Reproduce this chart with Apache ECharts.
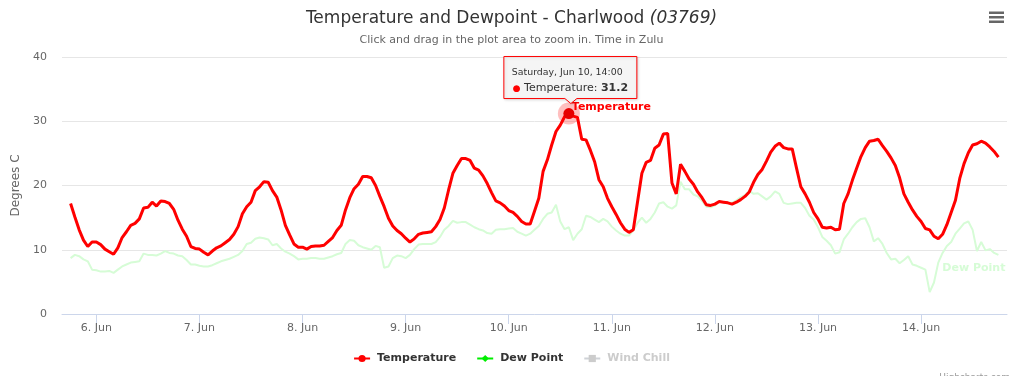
<!DOCTYPE html>
<html>
<head>
<meta charset="utf-8">
<script src="https://cdn.jsdelivr.net/npm/echarts@6/dist/echarts.min.js"></script>
<style>
html, body { margin: 0; padding: 0; background: #fff; }
#chart { width: 1023px; height: 376px; }
</style>
</head>
<body>
<div id="chart"></div>
<script>
// hourly readings, first one at 5 Jun 18:00 Zulu
var firstReading = Date.UTC(2017, 5, 5, 18);
var stepMs = 3600000;

var temperature = [
  17.2, 15.1, 13.1, 11.5, 10.5, 11.2,
  11.2, 10.8, 10.1, 9.7, 9.3, 10.3, 11.9, 12.8, 13.8, 14.1, 14.8, 16.5,
  16.6, 17.4, 16.8, 17.6, 17.5, 17.2, 16.3, 14.6, 13.2, 12.1, 10.5, 10.2,
  10.1, 9.6, 9.2, 9.8, 10.3, 10.6, 11.1, 11.6, 12.4, 13.6, 15.6, 16.7,
  17.4, 19.2, 19.8, 20.6, 20.5, 19.2, 18.2, 16.2, 13.8, 12.3, 10.9, 10.4,
  10.4, 10.1, 10.5, 10.6, 10.6, 10.7, 11.3, 11.9, 13.0, 13.8, 16.2, 18.1,
  19.5, 20.2, 21.4, 21.4, 21.2, 20.0, 18.3, 16.7, 14.9, 13.7, 13.0, 12.5,
  11.8, 11.2, 11.7, 12.4, 12.6, 12.7, 12.8, 13.6, 14.7, 16.5, 19.3, 21.9,
  23.1, 24.2, 24.2, 23.9, 22.7, 22.4, 21.5, 20.3, 18.9, 17.6, 17.3, 16.8,
  16.1, 15.8, 15.2, 14.4, 14.0, 14.0, 16.0, 18.0, 22.2, 24.0, 26.3, 28.4,
  29.4, 30.7, 31.2, 30.8, 30.6, 27.2, 27.1, 25.5, 23.7, 20.9, 19.8, 18.0,
  16.7, 15.5, 14.2, 13.2, 12.7, 13.1, 17.5, 21.9, 23.6, 23.9, 25.8, 26.3,
  28.0, 28.1, 20.4, 18.7, 23.3, 22.2, 21.0, 20.2, 19.0, 18.1, 17.0, 16.9,
  17.1, 17.5, 17.4, 17.3, 17.1, 17.4, 17.8, 18.3, 19.0, 20.5, 21.7, 22.5,
  23.8, 25.2, 26.1, 26.6, 25.9, 25.7, 25.7, 22.7, 19.8, 18.7, 17.4, 15.8,
  14.8, 13.5, 13.4, 13.5, 13.1, 13.2, 17.2, 18.7, 20.8, 22.7, 24.5, 25.9,
  26.9, 27.0, 27.2, 26.2, 25.3, 24.3, 23.1, 21.2, 18.7, 17.4, 16.2, 15.2,
  14.4, 13.3, 13.1, 12.1, 11.7, 12.4, 13.9, 15.8, 17.7, 21.1, 23.4, 25.1,
  26.3, 26.5, 26.9, 26.6, 26.0, 25.3, 24.4
];

var dewPoint = [
  8.7, 9.2, 9.0, 8.5, 8.2, 6.9,
  6.8, 6.6, 6.6, 6.7, 6.4, 6.9, 7.4, 7.7, 8.0, 8.1, 8.2, 9.4,
  9.2, 9.2, 9.1, 9.4, 9.8, 9.5, 9.4, 9.1, 9.0, 8.4, 7.7, 7.7,
  7.5, 7.4, 7.4, 7.6, 7.9, 8.2, 8.4, 8.6, 8.9, 9.2, 9.8, 10.9,
  11.1, 11.7, 11.9, 11.8, 11.6, 10.7, 10.9, 10.2, 9.7, 9.4, 9.0, 8.5,
  8.6, 8.6, 8.7, 8.7, 8.6, 8.6, 8.8, 9.0, 9.3, 9.5, 10.9, 11.5,
  11.4, 10.7, 10.4, 10.2, 10.0, 10.6, 10.4, 7.2, 7.4, 8.7, 9.1, 9.0,
  8.7, 9.2, 10.1, 10.8, 10.9, 10.9, 10.9, 11.2, 12.0, 13.1, 13.7, 14.5,
  14.2, 14.3, 14.3, 13.9, 13.5, 13.2, 13.0, 12.6, 12.5, 13.1, 13.2, 13.2,
  13.3, 13.4, 12.8, 12.5, 12.2, 12.5, 13.1, 13.7, 14.8, 15.6, 15.8, 17.0,
  14.4, 13.2, 13.5, 11.5, 12.5, 13.2, 15.3, 15.1, 14.7, 14.3, 14.8, 14.4,
  13.6, 13.0, 12.5, 12.2, 12.2, 13.0, 14.2, 15.0, 14.2, 14.8, 15.8, 17.2,
  17.4, 16.7, 16.4, 16.9, 20.6, 19.4, 19.4, 18.6, 18.3, 17.6, 16.7, 16.6,
  16.9, 17.5, 17.4, 17.3, 17.3, 17.7, 18.2, 18.5, 19.2, 18.7, 18.8, 18.3,
  17.8, 18.3, 19.1, 18.7, 17.3, 17.1, 17.2, 17.3, 17.3, 16.5, 15.3, 14.7,
  13.5, 12.0, 11.4, 10.7, 9.4, 9.6, 11.6, 12.5, 13.5, 14.3, 14.8, 14.9,
  13.5, 11.3, 11.8, 10.9, 9.5, 8.5, 8.6, 7.9, 8.4, 9.0, 7.7, 7.5,
  7.2, 6.9, 3.4, 4.9, 8.0, 9.5, 10.6, 11.2, 12.5, 13.3, 14.1, 14.4,
  13.1, 9.8, 11.2, 9.9, 10.1, 9.5, 9.2
];

var windChill = [];

var dayTicks = ['2017-06-06', '2017-06-07', '2017-06-08', '2017-06-09', '2017-06-10',
                '2017-06-11', '2017-06-12', '2017-06-13', '2017-06-14'];
var yTicks = [0, 10, 20, 30, 40];

// point under the mouse in the picture (10 Jun 14:00)
var hoverIndex = 116;

var xMin = Date.UTC(2017, 5, 5, 16);
var xMax = Date.UTC(2017, 5, 14, 20);

var FONT = '"Lucida Grande", "DejaVu Sans", sans-serif';
var weekDays = ['Sunday', 'Monday', 'Tuesday', 'Wednesday', 'Thursday', 'Friday', 'Saturday'];
var months = ['Jan', 'Feb', 'Mar', 'Apr', 'May', 'Jun', 'Jul', 'Aug', 'Sep', 'Oct', 'Nov', 'Dec'];

function pairs(values) {
  return values.map(function (v, i) { return [firstReading + i * stepMs, v]; });
}
var tickTimes = dayTicks.map(function (d) { return Date.parse(d + 'T00:00:00Z'); });
var tempData = pairs(temperature);
var dewData = pairs(dewPoint);
var hoverPoint = tempData[hoverIndex];

var myChart = echarts.init(document.getElementById('chart'));

var option = {
  animation: false,
  textStyle: { fontFamily: FONT },
  title: [{
    text: '{m|Temperature and Dewpoint - Charlwood }{i|(03769)}',
    left: 'center',
    top: 5,
    textStyle: {
      rich: {
        m: { fontFamily: FONT, fontSize: 17, fontWeight: 'normal', color: '#333' },
        i: { fontFamily: FONT, fontSize: 17, fontWeight: 'normal', color: '#333', fontStyle: 'italic' }
      }
    }
  }, {
    text: 'Click and drag in the plot area to zoom in. Time in Zulu',
    left: 'center',
    top: 30,
    textStyle: { fontFamily: FONT, fontSize: 11, color: '#666', fontWeight: 'normal' }
  }],
  grid: { left: 62, right: 16, top: 57, bottom: 62 },
  legend: {
    bottom: 7,
    left: 'center',
    itemWidth: 16,
    itemHeight: 9,
    itemGap: 20,
    inactiveColor: '#cccccc',
    textStyle: { fontFamily: FONT, fontSize: 11, fontWeight: 'bold', color: '#333', padding: [0, 0, 0, 2] },
    data: [
      { name: 'Temperature' },
      { name: 'Dew Point', lineStyle: { color: '#00ee00', opacity: 1 }, itemStyle: { color: '#00ee00' } },
      { name: 'Wind Chill' }
    ],
    selected: { 'Wind Chill': false }
  },
  xAxis: {
    type: 'value',
    min: xMin,
    max: xMax,
    axisLine: { onZero: false, lineStyle: { color: '#ccd6eb' } },
    axisTick: { show: true, length: 10, lineStyle: { color: '#ccd6eb' }, customValues: tickTimes },
    axisLabel: {
      color: '#666',
      fontSize: 11,
      margin: 9,
      customValues: tickTimes,
      formatter: function (v) {
        var d = new Date(v);
        return d.getUTCDate() + '. ' + months[d.getUTCMonth()];
      }
    },
    splitLine: { show: false }
  },
  yAxis: {
    type: 'value',
    min: yTicks[0],
    max: yTicks[yTicks.length - 1],
    interval: 10,
    name: 'Degrees C',
    nameLocation: 'middle',
    nameGap: 35,
    nameTextStyle: { color: '#666', fontSize: 12 },
    axisLine: { show: false },
    axisTick: { show: false },
    axisLabel: { color: '#666', fontSize: 11, margin: 15 },
    splitLine: { lineStyle: { color: '#e6e6e6' } }
  },
  series: [{
    name: 'Dew Point',
    type: 'line',
    data: dewData,
    showSymbol: false,
    symbol: 'diamond',
    color: '#00ee00',
    lineStyle: { color: '#d6fcd6', width: 2 },
    z: 2
  }, {
    name: 'Temperature',
    type: 'line',
    data: tempData,
    showSymbol: false,
    symbol: 'circle',
    color: '#ff0000',
    lineStyle: { color: '#ff0000', width: 3 },
    z: 3,
    markPoint: {
      silent: true,
      label: { show: false },
      data: [
        { coord: hoverPoint, symbol: 'circle', symbolSize: 22, itemStyle: { color: 'rgba(255,0,0,0.25)' } },
        { coord: hoverPoint, symbol: 'circle', symbolSize: 11, itemStyle: { color: '#e60000' } }
      ]
    }
  }, {
    name: 'Wind Chill',
    type: 'line',
    data: windChill,
    symbol: 'square',
    color: '#bbbbbb'
  }]
};

myChart.setOption(option);

// overlay: hover tooltip, series labels, menu icon, credits
var p = myChart.convertToPixel({ xAxisIndex: 0, yAxisIndex: 0 }, hoverPoint);
var px = p[0], py = p[1];
var L = px - 65, R = px + 68, T = py - 57, B = py - 15, ax = px + 2, tipY = py - 10;
var calloutPoints = [[L, T], [R, T], [R, B], [ax + 6, B], [ax, tipY], [ax - 6, B], [L, B]];

var hd = new Date(hoverPoint[0]);
var pad = function (n) { return (n < 10 ? '0' : '') + n; };
var dateText = weekDays[hd.getUTCDay()] + ', ' + months[hd.getUTCMonth()] + ' ' + hd.getUTCDate() + ', ' +
  pad(hd.getUTCHours()) + ':' + pad(hd.getUTCMinutes());

var dewEnd = myChart.convertToPixel({ xAxisIndex: 0, yAxisIndex: 0 }, dewData[dewData.length - 1]);

myChart.setOption({
  graphic: [
    {
      type: 'polygon', z: 100,
      shape: { points: calloutPoints },
      style: { fill: 'rgba(247,247,247,0.9)', stroke: '#ff0000', lineWidth: 1, lineJoin: 'round',
               shadowBlur: 3, shadowColor: 'rgba(0,0,0,0.15)', shadowOffsetX: 1, shadowOffsetY: 1 }
    },
    {
      type: 'text', z: 101, x: L + 8, y: T + 16,
      style: { text: dateText, fill: '#333', font: '9.4px ' + FONT, verticalAlign: 'middle' }
    },
    {
      type: 'text', z: 101, x: L + 9, y: T + 32,
      style: {
        text: '{b|●} {n|Temperature: }{v|' + hoverPoint[1].toFixed(1) + '}',
        verticalAlign: 'middle',
        rich: {
          b: { fill: '#ff0000', fontSize: 9, fontFamily: FONT },
          n: { fill: '#333', fontSize: 11, fontFamily: FONT },
          v: { fill: '#333', fontSize: 11, fontWeight: 'bold', fontFamily: FONT }
        }
      }
    },
    {
      type: 'text', z: 50, x: px + 3, y: py - 6,
      style: { text: 'Temperature', fill: '#ff0000', font: 'bold 11px ' + FONT, verticalAlign: 'middle' }
    },
    {
      type: 'text', z: 50, x: dewEnd[0] + 7, y: 268,
      style: { text: 'Dew Point', fill: '#d6fcd6', font: 'bold 11px ' + FONT, align: 'right', verticalAlign: 'middle' }
    },
    { type: 'rect', shape: { x: 989, y: 11.5, width: 15, height: 2.5 }, style: { fill: '#666' } },
    { type: 'rect', shape: { x: 989, y: 16, width: 15, height: 2.5 }, style: { fill: '#666' } },
    { type: 'rect', shape: { x: 989, y: 20.5, width: 15, height: 2.5 }, style: { fill: '#666' } },
    {
      type: 'text', x: 1010, y: 373,
      style: { text: 'Highcharts.com', fill: '#999', font: '9px ' + FONT, align: 'right', verticalAlign: 'top' }
    }
  ]
});

window.onresize = myChart.resize;
</script>
</body>
</html>
